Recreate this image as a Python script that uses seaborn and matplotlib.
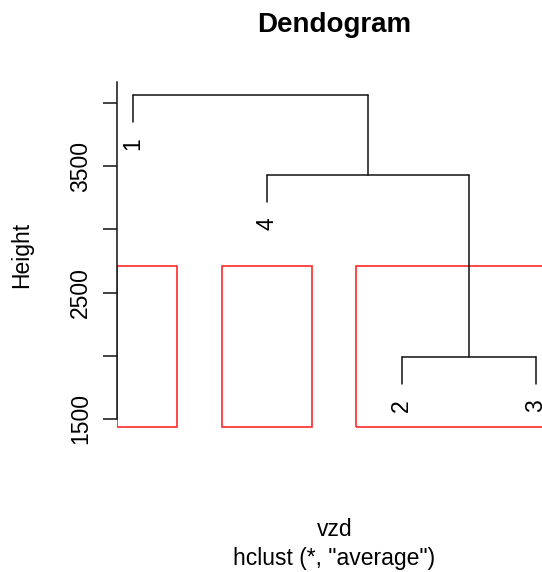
import numpy as np
import pandas as pd
import matplotlib
matplotlib.use("Agg")
import matplotlib.pyplot as plt
from matplotlib.patches import Rectangle
import seaborn as sns

# ---- data ----
labels = ["1", "2", "3", "4"]          # original observation labels
leaf_order = [1, 4, 2, 3]              # order of leaves along x
merge_left = [-2, -4, -1]              # R-style merge matrix (neg = leaf)
merge_right = [-3, 1, 2]
merge_height = [1990, 3430, 4063]
hang_amount = 214
k_clusters = 3
cluster_sizes = [1, 1, 2]
ytick_values = [1500, 2000, 2500, 3000, 3500, 4000]
ytick_labels = ["1500", "", "2500", "", "3500", ""]
axis_top = 4166

sns.set_style("white")
plt.rcParams["font.family"] = ["Liberation Sans", "DejaVu Sans"]
plt.rcParams["text.color"] = "black"

W, H = 542, 572
fig = plt.figure(figsize=(W / 100, H / 100), dpi=100)

# axes placement in pixels
left_px, right_px = 117, 552
bot_px, top_px = 429.1, 60
ax = fig.add_axes([left_px / W, 1 - bot_px / H, (right_px - left_px) / W, (bot_px - top_px) / H])
ax.set_xlim(0.881, 4.12)
ax.set_ylim(1420, 4340)

# ---- compute dendrogram segments ----
leaf_x = {leaf: i + 1 for i, leaf in enumerate(leaf_order)}
node_x, node_y = {}, {}
rows = []
seg = 0
for i, (a, b, h) in enumerate(zip(merge_left, merge_right, merge_height), start=1):
    xs = []
    for c in (a, b):
        if c < 0:
            cx = leaf_x[-c]
            cy = h - hang_amount
        else:
            cx = node_x[c]
            cy = node_y[c]
        xs.append(cx)
        rows += [dict(x=cx, y=cy, seg=seg), dict(x=cx, y=h, seg=seg)]
        seg += 1
    rows += [dict(x=xs[0], y=h, seg=seg), dict(x=xs[1], y=h, seg=seg)]
    seg += 1
    node_x[i] = np.mean(xs)
    node_y[i] = h
    # leaf labels
    for c in (a, b):
        if c < 0:
            ax.annotate(labels[-c - 1], xy=(leaf_x[-c], h - hang_amount),
                        xytext=(0, -11), textcoords="offset points",
                        rotation=90, ha="center", va="top", fontsize=16.5,
                        color="black")

df = pd.DataFrame(rows)
sns.lineplot(data=df, x="x", y="y", units="seg", estimator=None, sort=False,
             color="#111111", lw=1.1, ax=ax, legend=False)

# ---- cluster rectangles (rect.hclust style) ----
hs = sorted(merge_height, reverse=True)
rect_top = np.mean(hs[k_clusters - 2:k_clusters])
m = np.concatenate([[0], np.cumsum(cluster_sizes)])
ybot = 1437
for n in range(k_clusters):
    x0 = max(m[n] + 0.66, 0.881)
    x1 = m[n + 1] + 0.33
    ax.add_patch(Rectangle((x0, ybot), x1 - x0, rect_top - ybot,
                           fill=False, edgecolor="#ff2a2a", lw=1.2))

# ---- axes styling ----
for s in ["top", "right", "bottom"]:
    ax.spines[s].set_visible(False)
ax.spines["left"].set_bounds(1500, axis_top)
ax.spines["left"].set_color("#111111")
ax.spines["left"].set_linewidth(1.1)
ax.set_xticks([])
ax.set_yticks(ytick_values)
ax.set_yticklabels(ytick_labels, rotation=90, va="center", fontsize=16.5)
ax.tick_params(axis="y", direction="out", length=10, width=1.1, pad=8, left=True,
               colors="#111111", labelcolor="black")
ax.set_xlabel("")
ax.set_ylabel("")
ax.grid(False)

# ---- texts ----
cx = (left_px + right_px) / 2 / W
fig.text(cx, 1 - 25 / H, "Dendogram", ha="center", va="center", fontsize=20, fontweight="bold", color="black")
fig.text(22 / W, 1 - 255 / H, "Height", rotation=90, ha="center", va="center", fontsize=16.5, color="black")
fig.text(cx, 1 - 530 / H, "vzd", ha="center", va="center", fontsize=16.5, color="black")
fig.text(cx, 1 - 558 / H, 'hclust (*, "average")', ha="center", va="center", fontsize=16.5, color="black")

fig.savefig("out.png", dpi=100)
